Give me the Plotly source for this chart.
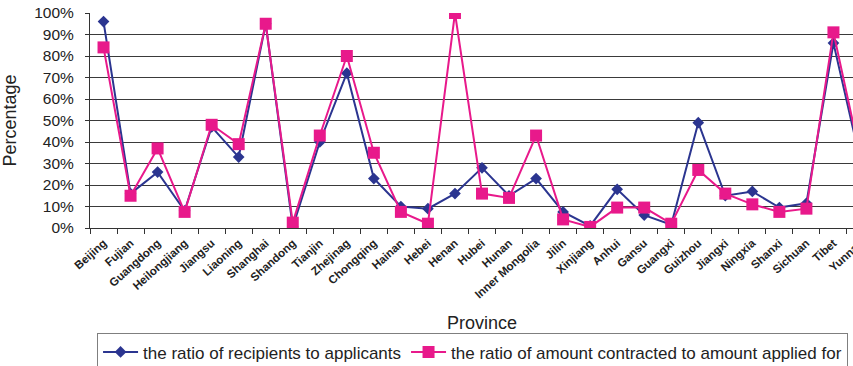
import plotly.graph_objects as go

provinces = ["Beijing", "Fujian", "Guangdong", "Heilongjiang", "Jiangsu", "Liaoning",
             "Shanghai", "Shandong", "Tianjin", "Zhejinag", "Chongqing", "Hainan",
             "Hebei", "Henan", "Hubei", "Hunan", "Inner Mongolia", "Jilin", "Xinjiang",
             "Anhui", "Gansu", "Guangxi", "Guizhou", "Jiangxi", "Ningxia", "Shanxi",
             "Sichuan", "Tibet", "Yunnan"]

ratio_recipients = [96, 16, 26, 8, 47, 33, 95, 0.5, 40, 72, 23, 10, 9, 16, 28, 15, 23,
                    7.5, 1, 18, 6, 1.5, 49, 15, 17, 9.5, 11.5, 86, 31]
ratio_amount = [84, 15, 37, 7.5, 48, 39, 95, 2.5, 43, 80, 35, 7.5, 2, 100, 16, 14, 43,
                4, 0.5, 9.5, 9.5, 2, 27, 16, 11, 7.5, 9, 91, 33]

series_names = ["the ratio of recipients to applicants",
                "the ratio of amount contracted to amount applied for"]
y_ticks = list(range(0, 101, 10))
y_tick_text = [f"{v}%" for v in y_ticks]

BLUE = "#2B3590"
PINK = "#E8198B"
FONT = "Liberation Sans, Arial, sans-serif"

fig = go.Figure()
fig.add_trace(go.Scatter(
    x=provinces, y=ratio_recipients, name=series_names[0], mode="lines+markers",
    line=dict(color=BLUE, width=2),
    marker=dict(symbol="diamond", size=9, color=BLUE)))
fig.add_trace(go.Scatter(
    x=provinces, y=ratio_amount, name=series_names[1], mode="lines+markers",
    line=dict(color=PINK, width=2),
    marker=dict(symbol="square", size=12, color=PINK)))

fig.update_layout(
    width=874, height=366,
    margin=dict(l=90, r=0, t=13, b=138, autoexpand=False),
    paper_bgcolor="white", plot_bgcolor="white",
    font=dict(family=FONT, color="#222222"),
    showlegend=True,
    legend=dict(orientation="h", x=0.009, xanchor="left", y=-0.49, yanchor="top",
                bordercolor="#7F7F7F", borderwidth=1, font=dict(size=17),
                bgcolor="white", tracegroupgap=0, itemwidth=35),
    xaxis=dict(
        type="category", range=[-0.5, 28.5], automargin=False,
        showline=True, linecolor="#333333", linewidth=1,
        ticks="outside", tickson="boundaries", ticklen=5, tickcolor="#333333",
        tickangle=-42, ticklabelstandoff=3,
        tickfont=dict(size=11.5, family=FONT, color="#222222", weight="bold"),
        showgrid=False,
        title=dict(text="Province", font=dict(size=18), standoff=16)),
    yaxis=dict(
        range=[0, 100], tickmode="array", tickvals=y_ticks, ticktext=y_tick_text,
        automargin=False,
        showline=True, linecolor="#333333", linewidth=1,
        ticks="outside", ticklen=4, tickcolor="#333333", ticklabelstandoff=8,
        tickfont=dict(size=15.5),
        showgrid=True, gridcolor="#3A3A3A", gridwidth=1,
        zeroline=False,
        title=dict(text="Percentage", font=dict(size=18), standoff=14)),
)

fig.write_html("out.html",
               post_script="document.documentElement.style.overflow='hidden';"
                           "document.body.style.overflow='hidden';")
